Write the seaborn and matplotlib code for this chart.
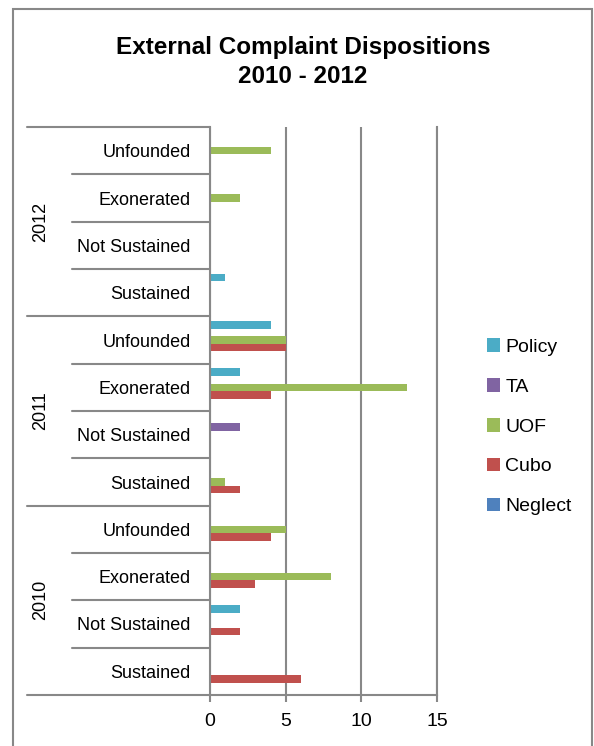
import pandas as pd
import matplotlib
matplotlib.use('Agg')
import matplotlib.pyplot as plt
import matplotlib.transforms as mtransforms
from matplotlib.patches import Rectangle
import seaborn as sns

# data (bottom to top as drawn)
years = ['2010', '2011', '2012']
dispositions = ['Sustained', 'Not Sustained', 'Exonerated', 'Unfounded']
series = ['Policy', 'TA', 'UOF', 'Cubo', 'Neglect']
colores = ['#4BACC6', '#8064A2', '#9BBB59', '#C0504D', '#4F81BD']

# values per year, each list follows dispositions order
neglect = {'2010': [0, 0, 0, 0], '2011': [0, 0, 0, 0], '2012': [0, 0, 0, 0]}
cubo = {'2010': [6, 2, 3, 4], '2011': [2, 0, 4, 5], '2012': [0, 0, 0, 0]}
uof = {'2010': [0, 0, 8, 5], '2011': [1, 0, 13, 5], '2012': [0, 0, 2, 4]}
ta = {'2010': [0, 0, 0, 0], '2011': [0, 2, 0, 0], '2012': [0, 0, 0, 0]}
policy = {'2010': [0, 2, 0, 0], '2011': [0, 0, 2, 4], '2012': [1, 0, 0, 0]}

valores = {'Neglect': neglect, 'Cubo': cubo, 'UOF': uof, 'TA': ta, 'Policy': policy}

filas = []
for y in years:
    for i, d in enumerate(dispositions):
        for s in series:
            filas.append({'cat': y + ' ' + d, 'serie': s, 'valor': valores[s][y][i]})
df = pd.DataFrame(filas)

orden = [y + ' ' + d for y in years for d in dispositions][::-1]

sns.set_style('white')
plt.rcParams['font.family'] = ['Liberation Sans', 'DejaVu Sans']
plt.rcParams['text.color'] = 'black'
plt.rcParams['xtick.color'] = 'black'
plt.rcParams['ytick.color'] = 'black'

fig = plt.figure(figsize=(5.94, 7.46), dpi=100)
ax = fig.add_axes([210 / 594, 1 - 695 / 746, 227 / 594, 568 / 746])

sns.barplot(data=df, y='cat', x='valor', hue='serie', order=orden, hue_order=series,
            palette=colores, saturation=1, orient='h', width=0.8, linewidth=0, ax=ax)

gris = '#888888'
ax.set_xlim(0, 15)
ax.set_ylim(len(orden) - 0.5, -0.5)
ax.set_xticks([0, 5, 10, 15])
ax.set_xticklabels(['0', '5', '10', '15'], fontsize=14)
ax.xaxis.grid(True, color=gris, linewidth=1.5)
ax.tick_params(axis='x', length=5, width=1.5, color=gris, labelcolor='black', pad=8, bottom=True)
ax.set_yticks(range(len(orden)))
ax.set_yticklabels([c.split(' ', 1)[1] for c in orden], fontsize=13)
ax.tick_params(axis='y', length=0, pad=14, labelcolor='black')
ax.set_xlabel('')
ax.set_ylabel('')
ax.spines['top'].set_visible(False)
for lado in ['left', 'bottom', 'right']:
    ax.spines[lado].set_color(gris)
    ax.spines[lado].set_linewidth(1.5)

# hierarchical category axis lines
trans = mtransforms.blended_transform_factory(ax.transAxes, ax.transData)
x_anio = (27 - 210) / 227
x_sub = (72 - 210) / 227
for k in range(len(orden) + 1):
    yb = k - 0.5
    x0 = x_anio if k % 4 == 0 else x_sub
    ax.plot([x0, 0], [yb, yb], color=gris, lw=1.5, transform=trans, clip_on=False)
for j, y in enumerate(years[::-1]):
    ax.text(-0.745, j * 4 + 1.5, y, rotation=90, ha='center', va='center',
            fontsize=13, color='black', transform=trans)

sns.move_legend(ax, 'center left', bbox_to_anchor=(0.79, 0.428),
                bbox_transform=fig.transFigure, frameon=False, title=None,
                fontsize=14, labelspacing=1.15, handlelength=0.7, handleheight=0.7,
                handletextpad=0.25, labelcolor='black')

fig.text(0.51, 0.917, 'External Complaint Dispositions\n2010 - 2012', ha='center',
         va='center', fontsize=17.5, fontweight='bold', linespacing=1.3, color='black')

fig.add_artist(Rectangle((13 / 594, -0.1), (592 - 13) / 594, 1.1 - 9 / 746,
                         transform=fig.transFigure, fill=False, edgecolor=gris, lw=1.5))

fig.savefig('out.png', dpi=100, facecolor='white')
